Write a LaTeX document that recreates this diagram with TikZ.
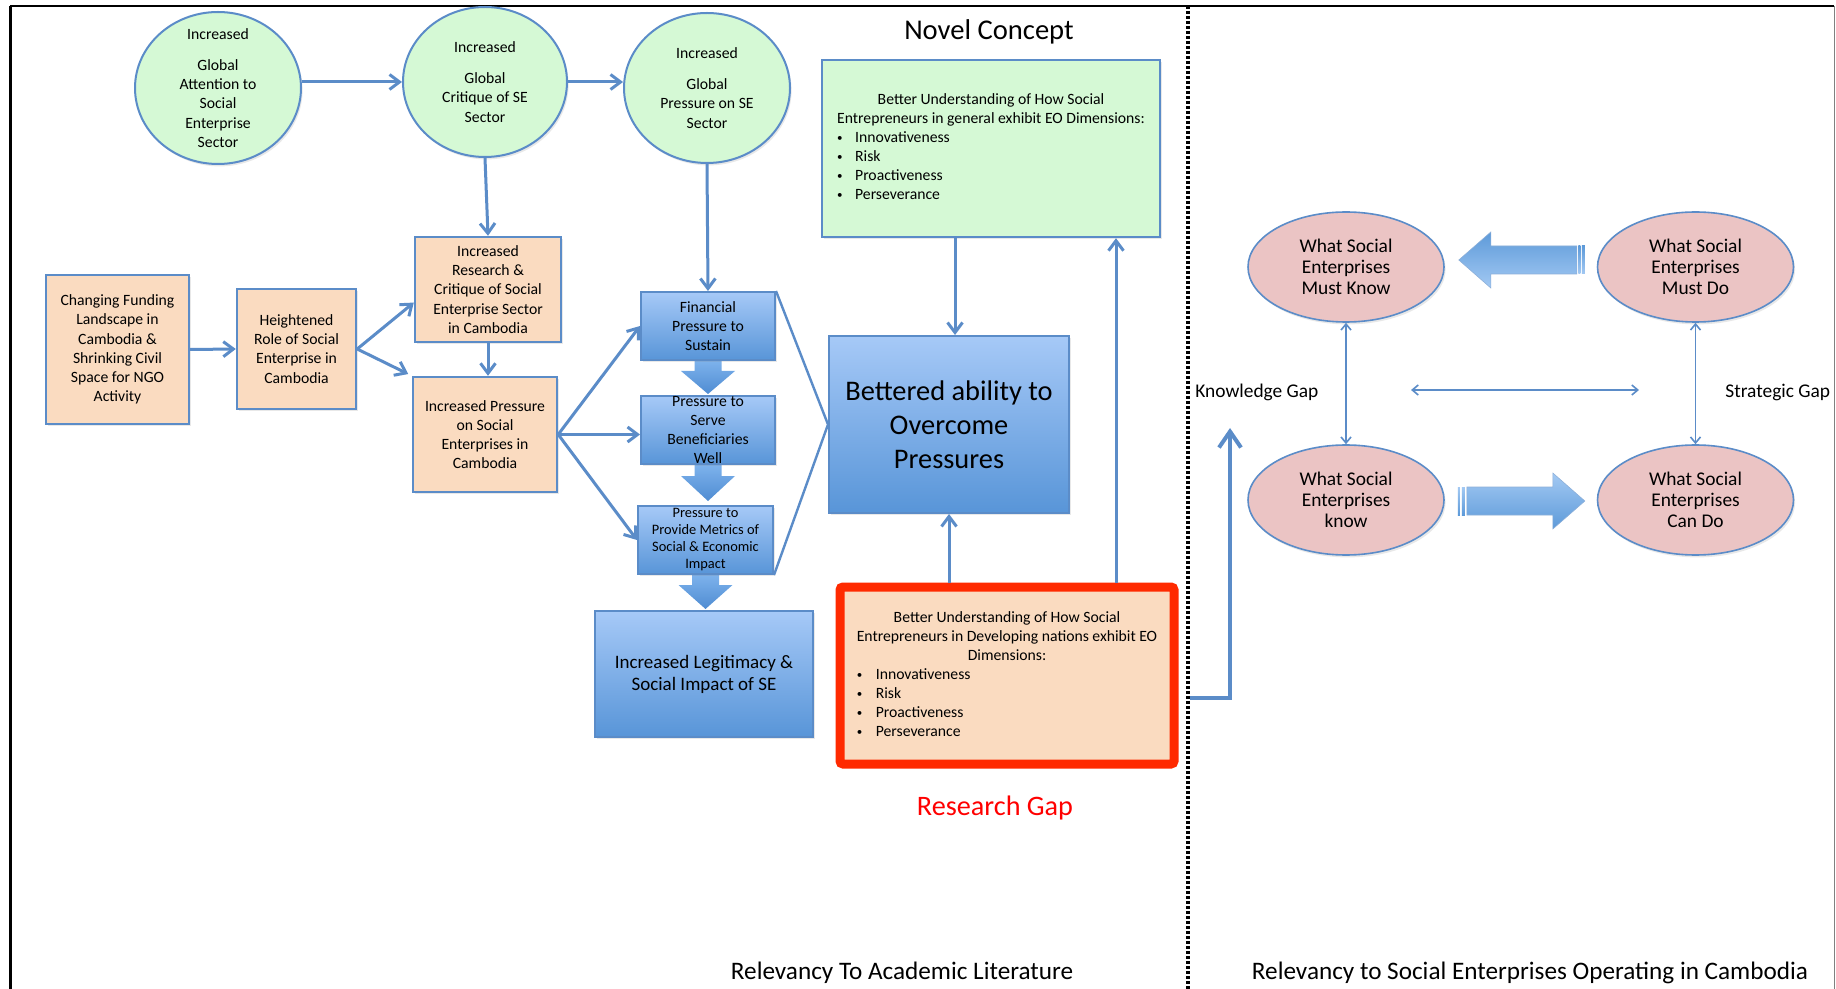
\documentclass[tikz,border=0pt]{standalone}
\usepackage{fontspec}
\usepackage{graphicx}
\setmainfont{Carlito}
\usetikzlibrary{arrows.meta,calc,shadows,shapes.geometric}
\definecolor{bline}{HTML}{5B8CC8}
\definecolor{gfill}{HTML}{D5F9D5}
\definecolor{pfill}{HTML}{FADBC0}
\definecolor{kfill}{HTML}{EBC4C4}
\definecolor{btop}{HTML}{A6C9F7}
\definecolor{bbot}{HTML}{5895D8}
\definecolor{atop}{HTML}{7DB2EC}
\definecolor{abot}{HTML}{4F8CD2}
\definecolor{hdark}{HTML}{5D9AD9}
\definecolor{hlight}{HTML}{A3C9F3}
\definecolor{rgred}{HTML}{FF2A00}
\pgfdeclarelayer{bg}
\pgfsetlayers{bg,main}
\newcommand{\bul}{\raisebox{0.6pt}{\scalebox{0.7}{\textbullet}}}
\begin{document}
\begin{tikzpicture}[x=0.5pt,y=-0.5pt,
  shd/.style={drop shadow={opacity=0.18,shadow xshift=0.8pt,shadow yshift=-1.2pt}},
  sm/.style={font=\fontsize{7.85}{9.6}\selectfont,align=center},
  circ/.style={ellipse,draw=bline,line width=1pt,fill=gfill,inner sep=-6pt,sm,shd},
  pbox/.style={rectangle,draw=bline,line width=1.2pt,fill=pfill,inner sep=0pt,sm,shd},
  bbox/.style={rectangle,draw=bline,line width=1pt,top color=btop,bottom color=bbot,inner sep=0pt,shd},
  pink/.style={ellipse,draw=bline,line width=0.8pt,fill=kfill,inner sep=-6pt,align=center,
    font=\fontsize{9.7}{10.5}\selectfont,shd},
  conn/.style={draw=bline,line width=1.5pt,-{Straight Barb[length=5pt,width=7.5pt]}},
  thinarr/.style={draw=bline,line width=0.8pt,{Straight Barb[length=3pt,width=5pt]}-{Straight Barb[length=3pt,width=5pt]}},
  barrow/.style={top color=atop,bottom color=abot},
  lbl/.style={inner sep=0pt}
]
\useasboundingbox (0,0) rectangle (1836,989);
\begin{pgfonlayer}{bg}
\fill[white] (0,0) rectangle (1836,989);
\end{pgfonlayer}
% frame
\draw[black,line width=1pt] (10,6) -- (1834,6);
\draw[black,line width=1.5pt] (10,6) -- (10,989);
\draw[gray,line width=0.5pt] (1834,6) -- (1834,989);
\draw[black,line width=1.6pt,dash pattern=on 1.4pt off 1.1pt] (1188,6) -- (1188,989);

% green circles
\node[circ,minimum width=83pt,minimum height=76pt] (c1) at (218,88)
  {Increased\\[6pt]Global\\Attention to\\Social\\Enterprise\\Sector};
\node[circ,minimum width=82pt,minimum height=75pt] (c2) at (485,82)
  {Increased\\[6pt]Global\\Critique of SE\\Sector};
\node[circ,minimum width=83pt,minimum height=75pt] (c3) at (707,88)
  {Increased\\[6pt]Global\\Pressure on SE\\Sector};

% peach boxes
\node[pbox,minimum width=71.5pt,minimum height=74.5pt] (chg) at (117.5,349.5)
  {Changing Funding\\Landscape in\\Cambodia \&\\Shrinking Civil\\Space for NGO\\Activity};
\node[pbox,minimum width=59.5pt,minimum height=60pt] (hgt) at (296.5,349)
  {Heightened\\Role of Social\\Enterprise in\\Cambodia};
\node[pbox,minimum width=73pt,minimum height=52.5pt] (rc) at (488,289.5)
  {Increased\\Research \&\\Critique of Social\\Enterprise Sector\\in Cambodia};
\node[pbox,minimum width=72pt,minimum height=57.5pt] (prs) at (485,434.5)
  {Increased Pressure\\on Social\\Enterprises in\\Cambodia};

% blue boxes
\node[bbox,sm,minimum width=67pt,minimum height=34pt] (fin) at (708,326)
  {Financial\\Pressure to\\Sustain};
\node[bbox,sm,minimum width=67pt,minimum height=34pt] (srv) at (708,430)
  {Pressure to\\Serve\\Beneficiaries\\Well};
\node[bbox,align=center,font=\fontsize{7.2}{8.5}\selectfont,minimum width=67.5pt,minimum height=34pt] (met) at (705.5,540)
  {Pressure to\\Provide Metrics of\\Social \& Economic\\Impact};
\node[bbox,align=center,font=\fontsize{9.5}{11}\selectfont,minimum width=109pt,minimum height=63pt] (leg) at (704,674)
  {Increased Legitimacy \&\\Social Impact of SE};
\node[bbox,align=center,font=\fontsize{14.2}{17}\selectfont,minimum width=120pt,minimum height=88.5pt] (bet) at (949,424.5)
  {Bettered ability to\\Overcome\\Pressures};

% novel concept box
\node[rectangle,draw=bline,line width=1.2pt,fill=gfill,inner sep=0pt,shd,
  font=\fontsize{7.85}{9.5}\selectfont,minimum width=169pt,minimum height=88.5pt] (nc) at (991,148.5)
  {\begin{tabular}{@{}l@{}}
   \multicolumn{1}{@{}c@{}}{Better Understanding of How Social}\\
   Entrepreneurs in general exhibit EO Dimensions:\\
   \makebox[9pt][l]{\bul}Innovativeness\\
   \makebox[9pt][l]{\bul}Risk\\
   \makebox[9pt][l]{\bul}Proactiveness\\
   \makebox[9pt][l]{\bul}Perseverance
   \end{tabular}};

% research gap box
\node[rectangle,draw=rgred,line width=4.5pt,fill=pfill,inner sep=0pt,rounded corners=1.5pt,shd,
  font=\fontsize{7.85}{9.5}\selectfont,minimum width=167pt,minimum height=88.5pt] (rg) at (1007,675.5)
  {\begin{tabular}{@{}l@{}}
   \multicolumn{1}{@{}c@{}}{Better Understanding of How Social}\\
   Entrepreneurs in Developing nations exhibit EO\\
   \multicolumn{1}{@{}c@{}}{Dimensions:}\\
   \makebox[9.5pt][l]{\bul}Innovativeness\\
   \makebox[9.5pt][l]{\bul}Risk\\
   \makebox[9.5pt][l]{\bul}Proactiveness\\
   \makebox[9.5pt][l]{\bul}Perseverance
   \end{tabular}};

% labels
\node[lbl,font=\fontsize{14.3}{16}\selectfont] (novel) at (989,32) {Novel Concept};
\node[lbl,font=\fontsize{14.1}{16}\selectfont,text=red] (rgl) at (995,808) {Research Gap};
\node[lbl,font=\fontsize{12.6}{14}\selectfont] (rel1) at (902,973) {Relevancy To Academic Literature};
\node[lbl,font=\fontsize{12.6}{14}\selectfont] (rel2) at (1530,973) {Relevancy to Social Enterprises Operating in Cambodia};

% right side ellipses
\node[pink,minimum width=98pt,minimum height=55pt] (mk) at (1346,267) {What Social\\Enterprises\\Must Know};
\node[pink,minimum width=98pt,minimum height=55pt] (md) at (1695.5,267) {What Social\\Enterprises\\Must Do};
\node[pink,minimum width=98pt,minimum height=55pt] (kn) at (1346,500) {What Social\\Enterprises\\know};
\node[pink,minimum width=98pt,minimum height=55pt] (cd) at (1695.5,500) {What Social\\Enterprises\\Can Do};
\node[lbl,anchor=west,font=\fontsize{9.7}{10.5}\selectfont] (kg) at (1195,392) {Knowledge Gap};
\node[lbl,anchor=west,font=\fontsize{9.7}{10.5}\selectfont] (sg) at (1725,392) {Strategic Gap};

% connectors left
\draw[conn] (c2.west -| c1.east) -- (c2.west);
\draw[conn] (c2.east) -- (c2.east -| c3.west);
\draw[conn] (c2.south) -- (rc.north);
\draw[conn] (c3.south) -- (fin.north);
\draw[conn] (chg.east) -- (hgt.west);
\draw[conn] (hgt.east) -- (rc.190);
\draw[conn,shorten >=2pt] (hgt.east) -- (prs.north west);
\draw[conn] (rc.south) -- (rc.south |- prs.north);
\draw[conn] (prs.east) -- (fin.west);
\draw[conn] (prs.east) -- (prs.east -| srv.west);
\draw[conn] (prs.east) -- (met.west);
\draw[bline,line width=1.2pt] (fin.north east) -- (bet.west) -- (met.south east);
\draw[conn] ([xshift=3pt]bet.north |- nc.south) -- ([xshift=3pt]bet.north);
\draw[conn] (bet.south |- rg.north) -- (bet.south);
\draw[conn] ([xshift=54.5pt]rg.north) -- ([xshift=54.5pt]rg.north |- nc.south);

% block arrows (behind text)
\begin{pgfonlayer}{bg}
\shade[barrow] ($(fin.south)+(-13.5,0)$) -- ($(fin.south)+(-13.5,10)$) -- ($(fin.south)+(-27,10)$)
  -- ($(srv.north)+(0,-1)$) -- ($(fin.south)+(27,10)$) -- ($(fin.south)+(13.5,10)$) -- ($(fin.south)+(13.5,0)$) -- cycle;
\shade[barrow] ($(srv.south)+(-13.5,0)$) -- ($(srv.south)+(-13.5,11)$) -- ($(srv.south)+(-27,11)$)
  -- ($(met.north)+(2.5,-4)$) -- ($(srv.south)+(27,11)$) -- ($(srv.south)+(13.5,11)$) -- ($(srv.south)+(13.5,0)$) -- cycle;
\shade[barrow] ($(met.south)+(-13.5,0)$) -- ($(met.south)+(-13.5,10)$) -- ($(met.south)+(-27,10)$)
  -- ($(leg.north)+(1.5,-1)$) -- ($(met.south)+(27,10)$) -- ($(met.south)+(13.5,10)$) -- ($(met.south)+(13.5,0)$) -- cycle;
\end{pgfonlayer}

% right side connectors
\draw[thinarr] (mk.south) -- (kn.north);
\draw[thinarr] (md.south) -- (cd.north);
\coordinate (hl) at (1411,390);
\coordinate (hr) at (1639,390);
\draw[thinarr] (hl) -- (hr);
\coordinate (rgout) at (1190,698);
\coordinate (kgtip) at (1230,428);
\draw[draw=bline,line width=2pt,-{Straight Barb[length=8pt,width=11pt]}] (rgout) -| (kgtip);

% big arrow md -> mk
\begin{scope}[shift={(mk.east)}]
\shade[top color=hdark,bottom color=hlight,draw=bline!70,line width=0.3pt]
  (14,-7) -- (46,-35) -- (46,-21) -- (132,-21) -- (132,7) -- (46,7) -- (46,21) -- cycle;
\shade[top color=hdark,bottom color=hlight] (133.5,-21) rectangle (135.5,7);
\shade[top color=hdark,bottom color=hlight] (137,-21) rectangle (140,7);
\end{scope}
% big arrow kn -> cd
\begin{scope}[shift={(kn.east)}]
\shade[top color=hlight,bottom color=hdark] (13,-13) rectangle (15,15);
\shade[top color=hlight,bottom color=hdark] (17,-13) rectangle (20,15);
\shade[top color=hlight,bottom color=hdark,draw=bline!70,line width=0.3pt]
  (22,-13) -- (108,-13) -- (108,-27) -- (140,1) -- (108,29) -- (108,15) -- (22,15) -- cycle;
\end{scope}
\end{tikzpicture}
\end{document}
